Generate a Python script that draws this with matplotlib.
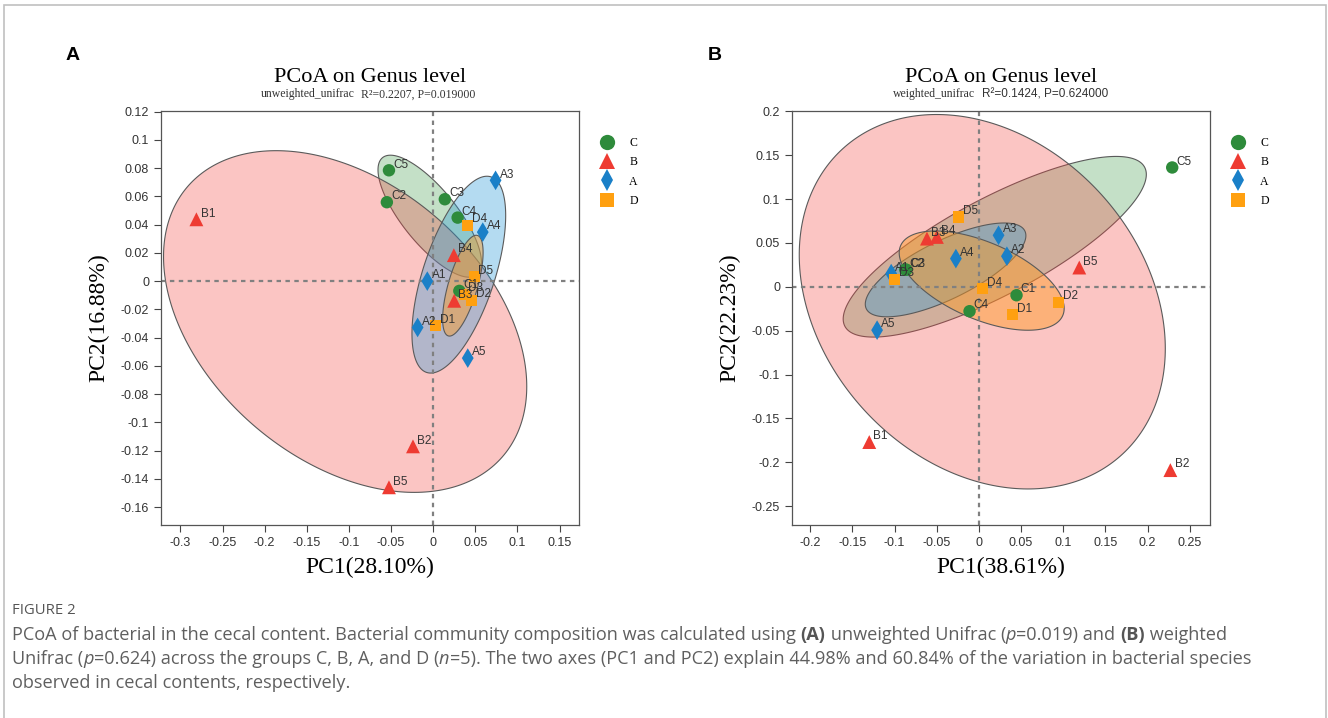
import numpy as np
import matplotlib
matplotlib.use("Agg")
import matplotlib.pyplot as plt
from matplotlib.colors import to_rgba
from matplotlib.lines import Line2D
from matplotlib.text import Annotation

# ---- data ----
groups = ["C", "B", "A", "D"]

# panel A: unweighted unifrac
a_names = ["C1", "C2", "C3", "C4", "C5",
           "B1", "B2", "B3", "B4", "B5",
           "A1", "A2", "A3", "A4", "A5",
           "D1", "D2", "D3", "D4", "D5"]
a_pc1 = [0.031, -0.055, 0.0138, 0.029, -0.0525,
         -0.281, -0.024, 0.0249, 0.0245, -0.0525,
         -0.007, -0.0185, 0.074, 0.0588, 0.041,
         0.0032, 0.0459, 0.0367, 0.041, 0.0486]
a_pc2 = [-0.0069, 0.0559, 0.058, 0.045, 0.0785,
         0.0438, -0.117, -0.0139, 0.0184, -0.146,
         0.0, -0.0328, 0.0714, 0.0347, -0.0545,
         -0.0316, -0.0134, -0.0092, 0.0396, 0.003]
# group ellipses (centre, spread along PC1/PC2, correlation), in group order
a_ell_cx = [-0.0041, -0.1045, 0.0304, 0.0352]
a_ell_cy = [0.046, -0.0286, 0.0046, -0.0032]
a_ell_rx = [0.0614, 0.2155, 0.0556, 0.024]
a_ell_ry = [0.0432, 0.121, 0.0697, 0.0357]
a_ell_rho = [-0.76, -0.38, 0.6, 0.66]

# panel B: weighted unifrac
b_names = ["C1", "C2", "C3", "C4", "C5",
           "B1", "B2", "B3", "B4", "B5",
           "A1", "A2", "A3", "A4", "A5",
           "D1", "D2", "D3", "D4", "D5"]
b_pc1 = [0.0446, -0.0873, -0.086, -0.0111, 0.2292,
         -0.130, 0.227, -0.0616, -0.0498, 0.119,
         -0.104, 0.0332, 0.0233, -0.0273, -0.1207,
         0.0403, 0.0948, -0.0996, 0.0043, -0.0237]
b_pc2 = [-0.0096, 0.0197, 0.0195, -0.0278, 0.1361,
         -0.177, -0.209, 0.055, 0.0569, 0.022,
         0.0151, 0.0349, 0.0588, 0.0322, -0.0494,
         -0.032, -0.0175, 0.0087, -0.002, 0.0796]
b_ell_cx = [0.0188, 0.004, -0.0395, 0.0033]
b_ell_cy = [0.0457, -0.017, 0.0193, 0.0071]
b_ell_rx = [0.1797, 0.217, 0.0952, 0.0978]
b_ell_ry = [0.103, 0.2135, 0.0535, 0.0566]
b_ell_rho = [0.8, -0.25, 0.73, -0.56]

colors = {"C": "#2e8b3b", "B": "#ee3b32", "A": "#1a80c8", "D": "#ffa010"}
fills = {"C": ("#3d9a48", 0.3), "B": ("#f2403a", 0.3),
         "A": ("#2a9ad8", 0.35), "D": ("#ff9a20", 0.45)}
markers = {"C": ("o", 80), "B": ("^", 100), "A": ("d", 100), "D": ("s", 64)}

serif = "Liberation Serif"
sans = "Liberation Sans"


def ellipse(ax, cx, cy, rx, ry, rho, g):
    t = np.linspace(0, 2 * np.pi, 300)
    x = cx + rx * np.cos(t)
    y = cy + ry * (rho * np.cos(t) + np.sqrt(1 - rho ** 2) * np.sin(t))
    c, a = fills[g]
    ax.fill(x, y, facecolor=to_rgba(c, a), edgecolor="#5a5a5a", lw=0.8, zorder=1)


def fmt(v):
    v = round(v, 3)
    return f"{(0 if abs(v) < 1e-9 else v):g}"


def panel(ax, names, pc1, pc2, cx, cy, rx, ry, rho, xlim, ylim, xt, yt,
          sub_a, sub_b, sub_b_font, split, xlab, ylab):
    for i, g in enumerate(groups):
        ellipse(ax, cx[i], cy[i], rx[i], ry[i], rho[i], g)
    ax.axhline(0, color="#808080", ls=(0, (2, 2)), lw=1.6, zorder=2)
    ax.axvline(0, color="#808080", ls=(0, (2, 2)), lw=1.6, zorder=2)
    for g in groups:
        idx = [i for i, n in enumerate(names) if n[0] == g]
        m, s = markers[g]
        ax.scatter([pc1[i] for i in idx], [pc2[i] for i in idx], marker=m, s=s,
                   color=colors[g], edgecolors="none", zorder=3)
        for i in idx:
            ax.annotate(names[i], (pc1[i], pc2[i]), xytext=(3, 2),
                        textcoords="offset points", fontsize=8.5, family=sans,
                        color="#333333", zorder=4)
    ax.set_xlim(xlim)
    ax.set_ylim(ylim)
    ax.set_xticks(xt)
    ax.set_yticks(yt)
    ax.set_xticklabels([fmt(v) for v in xt], family=sans, fontsize=9, color="#333333")
    ax.set_yticklabels([fmt(v) for v in yt], family=sans, fontsize=9, color="#333333")
    ax.tick_params(length=5, width=0.8, color="#444444")
    for sp in ax.spines.values():
        sp.set_color("#555555")
        sp.set_linewidth(0.9)
    ax.set_xlabel(xlab, family=serif, fontsize=17, labelpad=6)
    ax.set_ylabel(ylab, family=serif, fontsize=17, labelpad=8)
    ax.text(0.5, 1.08, "PCoA on Genus level", transform=ax.transAxes,
            ha="center", va="center", family=serif, fontsize=16)
    ax.text(split - 0.008, 1.04, sub_a, transform=ax.transAxes,
            ha="right", va="center", family=serif, fontsize=8.5, color="#333333")
    ax.text(split + 0.008, 1.04, sub_b, transform=ax.transAxes,
            ha="left", va="center", family=sub_b_font, fontsize=8.5, color="#333333")
    handles = [Line2D([], [], ls="none", marker=markers[g][0], color=colors[g],
                      markersize=11 if g != "D" else 9.5, markeredgewidth=0)
               for g in groups]
    ax.legend(handles, groups, loc="upper left", bbox_to_anchor=(1.013, 0.963),
              frameon=False, handletextpad=0.9, labelspacing=0.62,
              prop={"family": serif, "size": 8.5})


fig = plt.figure(figsize=(13.28, 7.18), dpi=100)

# outer frame
fig.patches.append(plt.Rectangle((4 / 1328, -0.01), 1322 / 1328, 1.003,
                                 transform=fig.transFigure, fill=False,
                                 edgecolor="#c0c0c0", lw=1.2))

axA = fig.add_axes([161 / 1328, 1 - 525 / 718, 418 / 1328, 414 / 718])
axB = fig.add_axes([792 / 1328, 1 - 525 / 718, 418 / 1328, 414 / 718])

panel(axA, a_names, a_pc1, a_pc2, a_ell_cx, a_ell_cy, a_ell_rx, a_ell_ry,
      a_ell_rho, (-0.323, 0.173), (-0.1727, 0.1205),
      np.arange(-0.3, 0.151, 0.05), np.arange(-0.16, 0.121, 0.02),
      "unweighted_unifrac", "R\u00b2=0.2207, P=0.019000", serif, 0.471,
      "PC1(28.10%)", "PC2(16.88%)")
panel(axB, b_names, b_pc1, b_pc2, b_ell_cx, b_ell_cy, b_ell_rx, b_ell_ry,
      b_ell_rho, (-0.2216, 0.274), (-0.2716, 0.2005),
      np.arange(-0.2, 0.251, 0.05), np.arange(-0.25, 0.201, 0.05),
      "weighted_unifrac", "R\u00b2=0.1424, P=0.624000", sans, 0.447,
      "PC1(38.61%)", "PC2(22.23%)")

fig.text(73 / 1328, 1 - 55 / 718, "A", family=sans, weight="bold", fontsize=14,
         ha="center", va="center")
fig.text(715 / 1328, 1 - 55 / 718, "B", family=sans, weight="bold", fontsize=14,
         ha="center", va="center")

# caption
cap = "Open Sans"
gray = "#5f5f5f"
fig.text(12 / 1328, 1 - 610 / 718, "FIGURE 2", family=cap, fontsize=10.7,
         color="#555555", va="center")

lines = [
    [("PCoA of bacterial in the cecal content. Bacterial community composition was calculated using ", "normal", "normal"),
     ("(A)", "bold", "normal"), (" unweighted Unifrac (", "normal", "normal"),
     ("p", "normal", "italic"), ("=0.019) and ", "normal", "normal"),
     ("(B)", "bold", "normal"), (" weighted", "normal", "normal")],
    [("Unifrac (", "normal", "normal"), ("p", "normal", "italic"),
     ("=0.624) across the groups C, B, A, and D (", "normal", "normal"),
     ("n", "normal", "italic"),
     ("=5). The two axes (PC1 and PC2) explain 44.98% and 60.84% of the variation in bacterial species", "normal", "normal")],
    [("observed in cecal contents, respectively.", "normal", "normal")],
]
ys = [635, 659, 683]
for segs, y in zip(lines, ys):
    prev = None
    for txt, w, st in segs:
        col = "#555555" if w == "bold" else gray
        if prev is None:
            prev = fig.text(12 / 1328, 1 - y / 718, txt, family=cap, fontsize=13.1,
                            color=col, weight=w, style=st, va="center")
        else:
            a = Annotation(txt, xy=(1, 0), xycoords=prev, va="bottom", ha="left",
                           family=cap, fontsize=13.1, color=col, weight=w, style=st)
            fig.add_artist(a)
            prev = a

fig.savefig("out.png", dpi=100)
